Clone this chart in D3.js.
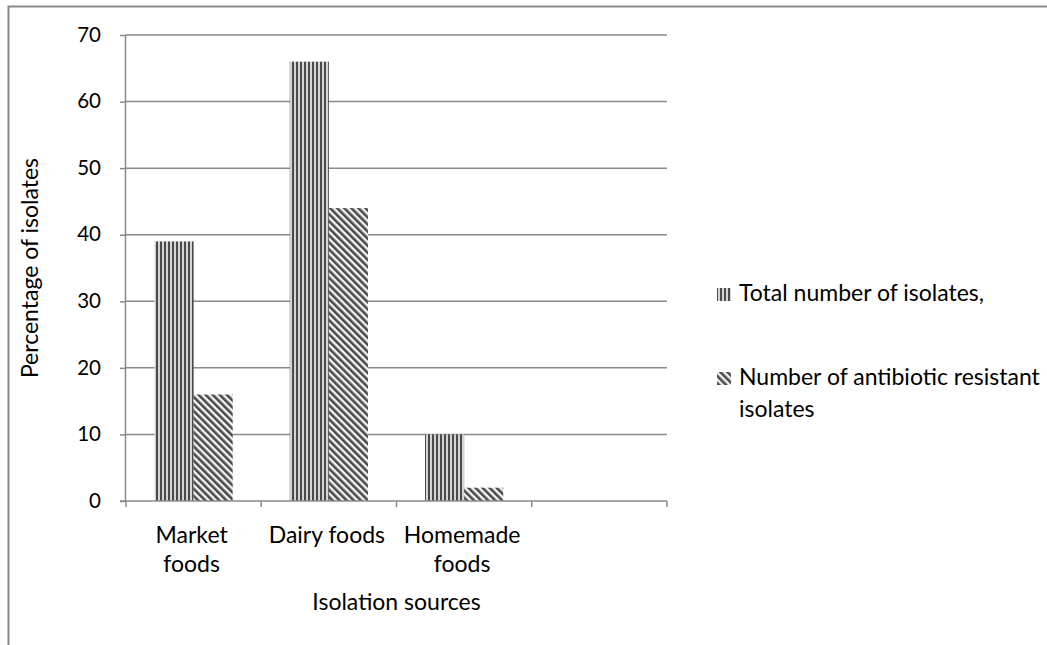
<!DOCTYPE html>
<html><head><meta charset="utf-8">
<script src="https://cdn.jsdelivr.net/npm/d3@7"></script>
<style>
html,body{margin:0;padding:0;background:#fff;}
text{font-family:Lato,"Open Sans",sans-serif;fill:#000;}
</style></head>
<body>
<svg id="chart" width="1047" height="645"></svg>
<script>
const categories = ["Market foods", "Dairy foods", "Homemade foods", ""];
const seriesNames = ["Total number of isolates,", "Number of antibiotic resistant isolates"];
const totalIsolates = [39, 66, 10, null];
const resistantIsolates = [16, 44, 2, null];
const yTicks = [0, 10, 20, 30, 40, 50, 60, 70];

const svg = d3.select("#chart");
const W = 1047, H = 645;
const m = {left: 126, top: 35, right: 667, bottom: 501};
const FS = 23;

// outer frame (top and left edges visible)
svg.append("path").attr("d", `M8.5,${H} L8.5,6.5 L${W},6.5`).attr("fill","none").attr("stroke","#8a8a8a").attr("stroke-width",2);

const defs = svg.append("defs");
const pv = defs.append("pattern").attr("id","vstripe").attr("patternUnits","userSpaceOnUse").attr("width",4).attr("height",4);
pv.append("rect").attr("width",4).attr("height",4).attr("fill","#d4d4d4");
pv.append("rect").attr("width",2).attr("height",4).attr("fill","#4a4a4a");
const pd = defs.append("pattern").attr("id","dstripe").attr("patternUnits","userSpaceOnUse").attr("width",5).attr("height",5).attr("patternTransform","rotate(-45)");
pd.append("rect").attr("width",5).attr("height",5).attr("fill","#f4f4f4");
pd.append("rect").attr("width",2.6).attr("height",5).attr("fill","#4a4a4a");

const x = d3.scaleBand().domain(categories.map((c,i)=>i)).range([m.left, m.right]).paddingInner(0).paddingOuter(0);
const y = d3.scaleLinear().domain([0,70]).range([m.bottom, m.top]);

// gridlines
svg.append("g").selectAll("line").data(yTicks.filter(d=>d>0)).join("line")
  .attr("x1", m.left).attr("x2", m.right).attr("y1", d=>y(d)).attr("y2", d=>y(d))
  .attr("stroke","#8a8a8a").attr("stroke-width",1.5);

// bars
const inner = d3.scaleBand().domain([0,1]).range([0, x.bandwidth()]).paddingOuter(0.73).paddingInner(0);
const series = [totalIsolates, resistantIsolates];
const fills = ["url(#vstripe)", "url(#dstripe)"];
series.forEach((vals, s) => {
  svg.append("g").selectAll("rect").data(vals.map((v,i)=>({v,i})).filter(d=>d.v!=null)).join("rect")
    .attr("x", d => x(d.i) + inner(s))
    .attr("width", inner.bandwidth())
    .attr("y", d => y(d.v))
    .attr("height", d => y(0) - y(d.v))
    .attr("fill", fills[s]);
});

// y axis
const yAxis = svg.append("g").attr("transform", `translate(${m.left},0)`)
  .call(d3.axisLeft(y).tickValues(yTicks).tickSize(6).tickPadding(19));
yAxis.select(".domain").attr("stroke","#8a8a8a").attr("stroke-width",1.5).attr("d", `M-0.5,${m.top}V${m.bottom}`);
yAxis.selectAll(".tick line").attr("stroke","#8a8a8a").attr("stroke-width",1.5);
yAxis.selectAll(".tick text").attr("font-size",20.5).attr("font-family","Lato,sans-serif").attr("fill","#000").attr("dy","0.3em");

// x axis
const xAxisG = svg.append("g").attr("transform", `translate(0,${m.bottom})`);
xAxisG.append("line").attr("x1", m.left-6).attr("x2", m.right).attr("y1",0).attr("y2",0).attr("stroke","#8a8a8a").attr("stroke-width",1.5);
const bounds = categories.map((c,i)=>x(i)).concat([m.right]);
xAxisG.selectAll("line.tk").data(bounds).join("line").attr("class","tk")
  .attr("x1", d=>d).attr("x2", d=>d).attr("y1",0).attr("y2",6).attr("stroke","#8a8a8a").attr("stroke-width",1.5);

const labelLines = {"Market foods":["Market","foods"], "Dairy foods":["Dairy foods"], "Homemade foods":["Homemade","foods"]};
categories.forEach((c,i) => {
  if (!c) return;
  const cx = x(i) + x.bandwidth()/2 - 2;
  const t = svg.append("text").attr("text-anchor","middle").attr("font-size",FS)
    .attr("x", cx).attr("y", 543);
  labelLines[c].forEach((ln,k) => t.append("tspan").attr("x", cx).attr("dy", k===0?0:28.5).text(ln));
});

svg.append("text").attr("text-anchor","middle").attr("font-size",FS)
  .attr("x", (m.left+m.right)/2).attr("y", 610).text("Isolation sources");
svg.append("text").attr("text-anchor","middle").attr("font-size",FS)
  .attr("transform", `translate(38,${(m.top+m.bottom)/2}) rotate(-90)`).text("Percentage of isolates");

// legend
const leg = svg.append("g");
const legY = [301, 385];
seriesNames.forEach((n,s) => {
  leg.append("rect").attr("x",717).attr("y",legY[s]-13).attr("width",14).attr("height",13).attr("fill",fills[s]);
  const t = leg.append("text").attr("x",739).attr("y",legY[s]).attr("font-size",FS);
  if (s===1) {
    t.append("tspan").attr("x",739).text("Number of antibiotic resistant");
    t.append("tspan").attr("x",739).attr("dy",31.5).text("isolates");
  } else t.text(n);
});
</script>
</body></html>
